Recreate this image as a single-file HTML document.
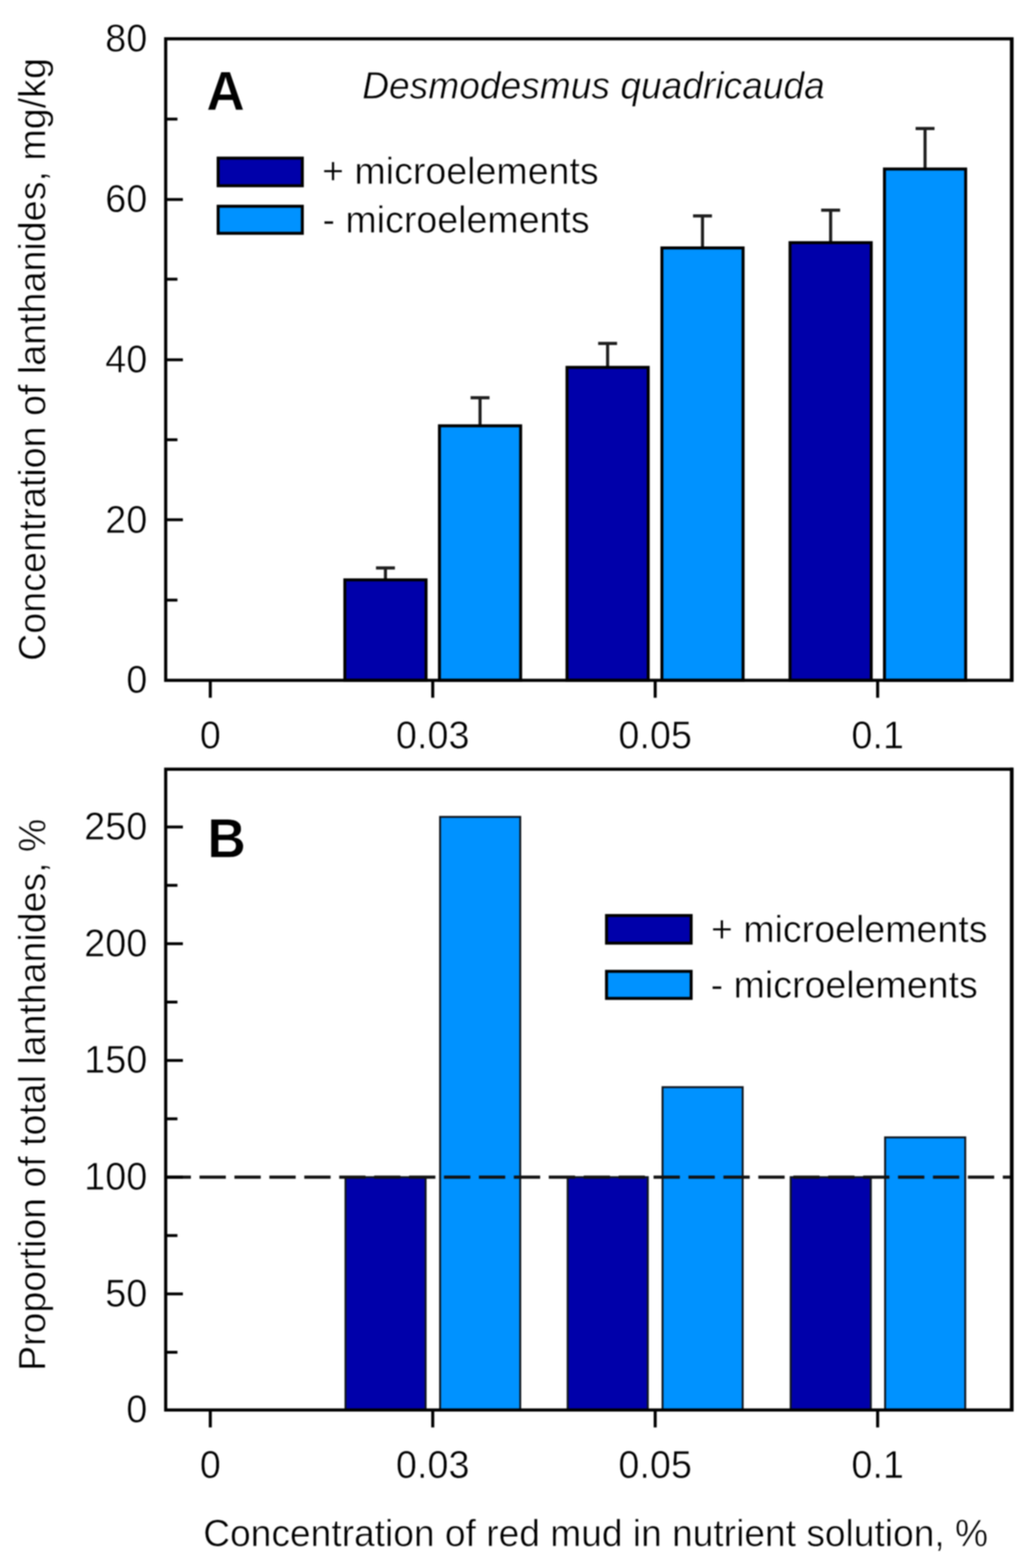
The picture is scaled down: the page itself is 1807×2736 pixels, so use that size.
<!DOCTYPE html>
<html lang="en">
<head>
<meta charset="utf-8">
<title>Lanthanides in Desmodesmus quadricauda</title>
<style>
html,body{margin:0;padding:0;background:#fff;}
body{width:1807px;height:2736px;}
svg{display:block;}
text{font-family:'Liberation Sans', Arial, Helvetica, sans-serif;fill:#000;stroke:#fff;stroke-width:0.9px;}
.ax{stroke:#000;fill:none;}
.tk{stroke:#000;stroke-width:5;fill:none;}
.xt{stroke:#000;stroke-width:5.3;fill:none;}
.ba{stroke:#000;stroke-width:5.2;}
.bb{stroke:#10161e;stroke-width:3.4;}
.eb{stroke:#1e1e1e;stroke-width:5.4;fill:none;}
</style>
</head>
<body>
<svg width="1807" height="2736" viewBox="0 0 1807 2736">
<defs><filter id="soft" x="0" y="0" width="1807" height="2736" filterUnits="userSpaceOnUse" color-interpolation-filters="sRGB"><feGaussianBlur stdDeviation="0.8"/></filter></defs>
<rect x="0" y="0" width="1807" height="2736" fill="#ffffff"/>
<g filter="url(#soft)">
<rect x="-10" y="-10" width="1827" height="2756" fill="#ffffff"/>
<g id="panelA">
<path class="eb" d="M672.3 1011.8 V991 M655.8 991 H688.8"/>
<rect class="ba" x="601.5" y="1011.8" width="141.6" height="175.3" fill="#0000aa"/>
<path class="eb" d="M837.3 743 V694 M820.8 694 H853.8"/>
<rect class="ba" x="766.5" y="743" width="141.6" height="444.1" fill="#0092ff"/>
<path class="eb" d="M1059.8 641 V599.2 M1043.3 599.2 H1076.3"/>
<rect class="ba" x="989" y="641" width="141.6" height="546.1" fill="#0000aa"/>
<path class="eb" d="M1225.3 432.6 V376.7 M1208.8 376.7 H1241.8"/>
<rect class="ba" x="1154.5" y="432.6" width="141.6" height="754.5" fill="#0092ff"/>
<path class="eb" d="M1448.8 423.4 V366.8 M1432.3 366.8 H1465.3"/>
<rect class="ba" x="1378" y="423.4" width="141.6" height="763.7" fill="#0000aa"/>
<path class="eb" d="M1613.5 294.9 V224.2 M1597 224.2 H1630"/>
<rect class="ba" x="1542.7" y="294.9" width="141.6" height="892.2" fill="#0092ff"/>
<rect class="ax" x="289" y="67.7" width="1475.6" height="1119.4" stroke-width="5.5"/>
<path class="ax" d="M1764.7 64.95 V1189.85" stroke-width="6.3"/>
<path class="tk" d="M289 1047.2 H309.5"/>
<path class="tk" d="M289 906.9 H319"/>
<path class="tk" d="M289 767.3 H309.5"/>
<path class="tk" d="M289 627.8 H319"/>
<path class="tk" d="M289 487.1 H309.5"/>
<path class="tk" d="M289 348.1 H319"/>
<path class="tk" d="M289 207.8 H309.5"/>
<text transform="translate(257 1209.2) scale(0.976 1)" font-size="67.65" text-anchor="end">0</text>
<text transform="translate(257 929.6) scale(0.976 1)" font-size="67.65" text-anchor="end">20</text>
<text transform="translate(257 650) scale(0.976 1)" font-size="67.65" text-anchor="end">40</text>
<text transform="translate(257 370.4) scale(0.976 1)" font-size="67.65" text-anchor="end">60</text>
<text transform="translate(257 90.1) scale(0.976 1)" font-size="67.65" text-anchor="end">80</text>
<path class="xt" d="M366.8 1187.1 V1217.5"/>
<text transform="translate(366.8 1305.7) scale(0.976 1)" font-size="67.65" text-anchor="middle">0</text>
<path class="xt" d="M754.8 1187.1 V1217.5"/>
<text transform="translate(754.8 1305.7) scale(0.976 1)" font-size="67.65" text-anchor="middle">0.03</text>
<path class="xt" d="M1142.8 1187.1 V1217.5"/>
<text transform="translate(1142.8 1305.7) scale(0.976 1)" font-size="67.65" text-anchor="middle">0.05</text>
<path class="xt" d="M1530.8 1187.1 V1217.5"/>
<text transform="translate(1530.8 1305.7) scale(0.976 1)" font-size="67.65" text-anchor="middle">0.1</text>
<text transform="translate(360.1 192.4) scale(0.97 1)" font-size="95.6" font-weight="bold">A</text>
<text transform="translate(631.7 172) scale(0.976 1)" font-size="66.42" font-style="italic">Desmodesmus quadricauda</text>
<rect class="ba" x="380.5" y="275.9" width="146.8" height="48.2" fill="#0000aa"/>
<rect class="ba" x="380.5" y="359.9" width="146.8" height="47.2" fill="#0092ff"/>
<text transform="translate(561.8 321.4) scale(0.976 1)" font-size="67.14">+ microelements</text>
<text transform="translate(562.5 405.6) scale(0.976 1)" font-size="67.14">- microelements</text>
<text transform="translate(78.8 1153.2) rotate(-90) scale(0.976 1)" font-size="67.34">Concentration of lanthanides, mg/kg</text>
</g>
<g id="panelB">
<rect class="bb" x="602.6" y="2054" width="139.8" height="406.3" fill="#0000aa"/>
<rect class="bb" x="767.6" y="1425.4" width="139.8" height="1034.9" fill="#0092ff"/>
<rect class="bb" x="990.1" y="2054" width="139.8" height="406.3" fill="#0000aa"/>
<rect class="bb" x="1155.6" y="1897" width="139.8" height="563.3" fill="#0092ff"/>
<rect class="bb" x="1379.1" y="2054" width="139.8" height="406.3" fill="#0000aa"/>
<rect class="bb" x="1543.8" y="1984.6" width="139.8" height="475.7" fill="#0092ff"/>
<path d="M287.05 2054.05 H1764.6" stroke="#121212" stroke-width="5.6" stroke-dasharray="45.9 15.02" fill="none"/>
<rect class="ax" x="289" y="1342.2" width="1475.6" height="1118.1" stroke-width="5.5"/>
<path class="ax" d="M1764.7 1339.45 V2463.05" stroke-width="6.3"/>
<path class="tk" d="M289 2359.58 H309.5"/>
<path class="tk" d="M289 2257.74 H319"/>
<path class="tk" d="M289 2155.9 H309.5"/>
<path class="tk" d="M289 2054.05 H319"/>
<path class="tk" d="M289 1952.21 H309.5"/>
<path class="tk" d="M289 1850.37 H319"/>
<path class="tk" d="M289 1748.53 H309.5"/>
<path class="tk" d="M289 1646.68 H319"/>
<path class="tk" d="M289 1544.84 H309.5"/>
<path class="tk" d="M289 1443 H319"/>
<text transform="translate(257 2482.3) scale(0.976 1)" font-size="67.65" text-anchor="end">0</text>
<text transform="translate(257 2279.74) scale(0.976 1)" font-size="67.65" text-anchor="end">50</text>
<text transform="translate(257 2076.05) scale(0.976 1)" font-size="67.65" text-anchor="end">100</text>
<text transform="translate(257 1872.37) scale(0.976 1)" font-size="67.65" text-anchor="end">150</text>
<text transform="translate(257 1668.68) scale(0.976 1)" font-size="67.65" text-anchor="end">200</text>
<text transform="translate(257 1465) scale(0.976 1)" font-size="67.65" text-anchor="end">250</text>
<path class="xt" d="M366.8 2460.3 V2490.7"/>
<text transform="translate(366.8 2579) scale(0.976 1)" font-size="67.65" text-anchor="middle">0</text>
<path class="xt" d="M754.8 2460.3 V2490.7"/>
<text transform="translate(754.8 2579) scale(0.976 1)" font-size="67.65" text-anchor="middle">0.03</text>
<path class="xt" d="M1142.8 2460.3 V2490.7"/>
<text transform="translate(1142.8 2579) scale(0.976 1)" font-size="67.65" text-anchor="middle">0.05</text>
<path class="xt" d="M1530.8 2460.3 V2490.7"/>
<text transform="translate(1530.8 2579) scale(0.976 1)" font-size="67.65" text-anchor="middle">0.1</text>
<text transform="translate(361.7 1496.2) scale(0.97 1)" font-size="95.6" font-weight="bold">B</text>
<rect class="ba" x="1057.9" y="1597.5" width="147.6" height="48.2" fill="#0000aa"/>
<rect class="ba" x="1057.9" y="1694.9" width="147.6" height="47.2" fill="#0092ff"/>
<text transform="translate(1240 1644.4) scale(0.976 1)" font-size="67.14">+ microelements</text>
<text transform="translate(1239.5 1741.4) scale(0.976 1)" font-size="67.14">- microelements</text>
<text transform="translate(79 2392.1) rotate(-90) scale(0.976 1)" font-size="67.03">Proportion of total lanthanides, %</text>
<text transform="translate(354.5 2698.4) scale(0.976 1)" font-size="66.42">Concentration of red mud in nutrient solution, %</text>
</g>
</g>
</svg>
</body>
</html>
